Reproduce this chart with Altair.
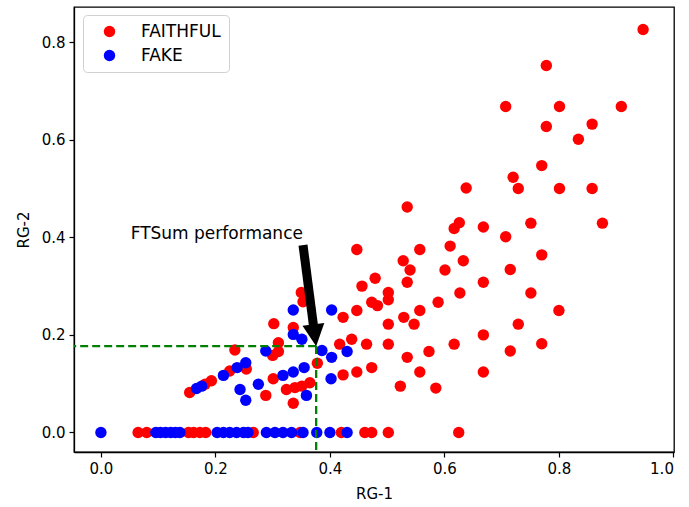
import altair as alt
import pandas as pd

# ---- data ----
faithful_x = [0.947, 0.778, 0.707, 0.801, 0.909, 0.778, 0.858, 0.834, 0.770, 0.720, 0.729, 0.801, 0.858,
              0.638, 0.535, 0.626, 0.617, 0.668, 0.751, 0.876, 0.707,
              0.610, 0.557, 0.447, 0.528, 0.633, 0.770, 0.540, 0.601, 0.715,
              0.479, 0.456, 0.535, 0.668, 0.502, 0.502, 0.627, 0.751, 0.473, 0.483, 0.589,
              0.447, 0.423, 0.557, 0.529, 0.800, 0.547, 0.502, 0.729,
              0.417, 0.438, 0.464, 0.502, 0.617, 0.668, 0.770,
              0.573, 0.715, 0.535,
              0.423, 0.447, 0.473, 0.557, 0.668, 0.523, 0.585,
              0.350, 0.353, 0.302, 0.336, 0.310, 0.310, 0.300, 0.234,
              0.378, 0.254, 0.225, 0.301, 0.193, 0.182, 0.155, 0.324, 0.339, 0.351, 0.365, 0.288, 0.336,
              0.065, 0.080, 0.153, 0.162, 0.173, 0.183, 0.266, 0.348, 0.420, 0.461, 0.473, 0.502, 0.625]
faithful_y = [0.826, 0.752, 0.668, 0.668, 0.668, 0.627, 0.632, 0.601, 0.547, 0.523, 0.500, 0.500, 0.500,
              0.501, 0.462, 0.430, 0.418, 0.421, 0.429, 0.429, 0.401,
              0.382, 0.375, 0.375, 0.352, 0.352, 0.364, 0.333, 0.333, 0.334,
              0.316, 0.300, 0.308, 0.308, 0.287, 0.272, 0.286, 0.286, 0.267, 0.260, 0.267,
              0.250, 0.236, 0.250, 0.236, 0.250, 0.222, 0.222, 0.222,
              0.181, 0.191, 0.181, 0.181, 0.181, 0.200, 0.182,
              0.166, 0.167, 0.154,
              0.118, 0.124, 0.133, 0.124, 0.124, 0.095, 0.091,
              0.287, 0.268, 0.223, 0.215, 0.184, 0.166, 0.158, 0.169,
              0.142, 0.130, 0.126, 0.110, 0.106, 0.099, 0.082, 0.088, 0.092, 0.095, 0.102, 0.076, 0.060,
              0.0, 0.0, 0.0, 0.0, 0.0, 0.0, 0.0, 0.0, 0.0, 0.0, 0.0, 0.0, 0.0]

fake_x = [0.0, 0.096, 0.104, 0.113, 0.122, 0.130, 0.138, 0.203, 0.214, 0.225, 0.237, 0.249, 0.257,
          0.289, 0.304, 0.318, 0.333, 0.353, 0.377, 0.400, 0.430,
          0.336, 0.403, 0.336, 0.351, 0.288, 0.386, 0.403, 0.430, 0.253, 0.238, 0.214,
          0.355, 0.336, 0.318, 0.402, 0.176, 0.167, 0.275, 0.243, 0.253, 0.359]
fake_y = [0.0, 0.0, 0.0, 0.0, 0.0, 0.0, 0.0, 0.0, 0.0, 0.0, 0.0, 0.0, 0.0,
          0.0, 0.0, 0.0, 0.0, 0.0, 0.0, 0.0, 0.0,
          0.251, 0.251, 0.201, 0.191, 0.167, 0.168, 0.154, 0.166, 0.143, 0.133, 0.117,
          0.133, 0.124, 0.117, 0.110, 0.095, 0.090, 0.099, 0.088, 0.066, 0.076]

series_names = ["FAITHFUL", "FAKE"]
series_colors = ["#ff0000", "#0000ff"]

x_ticks = [0.0, 0.2, 0.4, 0.6, 0.8, 1.0]
y_ticks = [0.0, 0.2, 0.4, 0.6, 0.8]

ftsum_x = [0.376]
ftsum_y = [0.177]
label_text = ["FTSum performance"]
label_x = [0.052]
label_y = [0.396]
tail_x = [0.353]
tail_y = [0.384]

# ---- tables ----
df = pd.DataFrame({
    "x": faithful_x + fake_x,
    "y": faithful_y + fake_y,
    "series": [series_names[0]] * len(faithful_x) + [series_names[1]] * len(fake_x),
})
ann = pd.DataFrame({"fx": ftsum_x, "fy": ftsum_y, "tx": tail_x, "ty": tail_y,
                    "lx": label_x, "ly": label_y, "label": label_text})

xs = alt.Scale(domain=[-0.047, 1.001], nice=False, zero=False)
ys = alt.Scale(domain=[-0.040, 0.872], nice=False, zero=False)

xaxis = alt.Axis(values=x_ticks, format=".1f", title="RG-1", grid=False)
yaxis = alt.Axis(values=y_ticks, format=".1f", title="RG-2", grid=False)

points = alt.Chart(df).mark_circle(size=130, opacity=1).encode(
    x=alt.X("x:Q", scale=xs, axis=xaxis),
    y=alt.Y("y:Q", scale=ys, axis=yaxis),
    color=alt.Color("series:N", scale=alt.Scale(domain=series_names, range=series_colors),
                    legend=alt.Legend(orient="none", legendX=9, legendY=8, title=None,
                                      labelFontSize=17, symbolSize=130, symbolType="circle",
                                      padding=8, symbolOffset=10, labelOffset=23, rowPadding=6,
                                      strokeColor="#d0d0d0", fillColor="white", cornerRadius=4,
                                      symbolStrokeWidth=0)),
)

base = alt.Chart(ann)
hline = base.mark_rule(color="#008000", strokeWidth=2.3, strokeDash=[8, 4]).encode(
    x=alt.X("fx:Q", scale=xs), x2=alt.value(0), y=alt.Y("fy:Q", scale=ys))
vline = base.mark_rule(color="#008000", strokeWidth=2.3, strokeDash=[8, 4]).encode(
    x=alt.X("fx:Q", scale=xs), y=alt.Y("fy:Q", scale=ys), y2=alt.value(445))
shaft = base.mark_rule(color="black", strokeWidth=9, strokeCap="butt",
                       x2Offset=-2.5, y2Offset=-19).encode(
    x=alt.X("tx:Q", scale=xs), y=alt.Y("ty:Q", scale=ys),
    x2=alt.X2("fx:Q"), y2=alt.Y2("fy:Q"))
head = base.mark_point(shape="M -1 -1 L 1 -1 L 0 1 Z", size=484, filled=True, opacity=1,
                       color="black", angle=352.7, xOffset=-1.4, yOffset=-10.9).encode(
    x=alt.X("fx:Q", scale=xs), y=alt.Y("fy:Q", scale=ys))
label = base.mark_text(align="left", baseline="alphabetic", fontSize=17, color="black").encode(
    x=alt.X("lx:Q", scale=xs), y=alt.Y("ly:Q", scale=ys), text="label:N")

chart = alt.layer(points, hline, vline, shaft, head, label).properties(
    width=600, height=445,
    autosize=alt.AutoSizeParams(type="none"),
    padding={"left": 74, "top": 7, "right": 15, "bottom": 55},
).configure(font="DejaVu Sans").configure_view(
    stroke="black", strokeWidth=1.3
).configure_axis(
    domainColor="black", domainWidth=1.3, tickColor="black", tickSize=5, tickWidth=1.2,
    labelFontSize=15, labelColor="black", titleFontSize=15, titleFontWeight="normal",
    titleColor="black", labelPadding=4,
).configure_axisX(titlePadding=10).configure_axisY(titlePadding=10)

chart.save("out.html", embed_options={"renderer": "svg", "actions": False})
